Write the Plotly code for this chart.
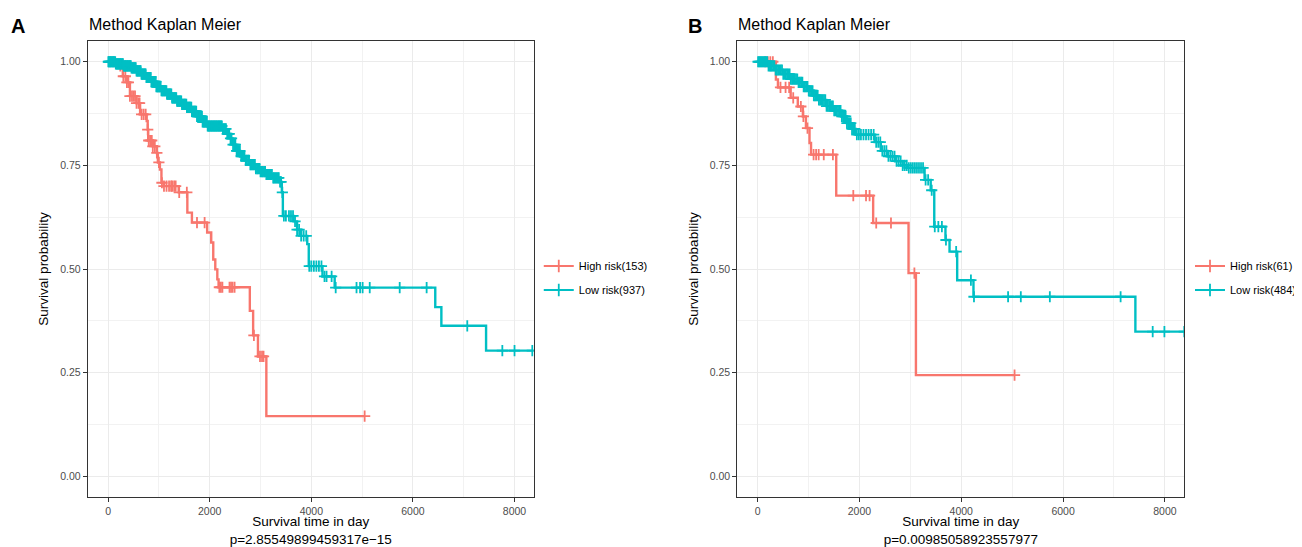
import numpy as np
import plotly.graph_objects as go

# ---------------- data ----------------
# Panel A
a_high_t = [0, 220, 290, 370, 430, 560, 630, 760, 780, 790, 880, 960, 980, 1020, 1050, 1100,
            1390, 1560, 1650, 1950, 2030, 2070, 2110, 2150, 2175, 2790, 2855, 2950, 3115, 5050]
a_high_s = [1.0, 0.99, 0.965, 0.95, 0.917, 0.90, 0.873, 0.857, 0.836, 0.81, 0.796, 0.78, 0.757, 0.74,
            0.708, 0.70, 0.685, 0.636, 0.612, 0.588, 0.564, 0.523, 0.499, 0.475, 0.456, 0.399, 0.34,
            0.289, 0.145, 0.145]
a_high_cens = [240, 300, 340, 370, 400, 430, 470, 500, 530, 560, 600, 620, 660, 700, 740, 780, 800,
               830, 860, 880, 920, 960, 1000, 1060, 1100, 1150, 1200, 1240, 1260, 1300, 1330, 1400,
               1550, 1750, 1900, 2190, 2220, 2250, 2390, 2420, 2450, 2490, 2870, 2990, 3030, 3060, 5050]

a_low_t = [0, 150, 300, 450, 550, 650, 750, 850, 950, 1050, 1150, 1250, 1350, 1450, 1550, 1650,
           1750, 1850, 1950, 2250, 2330, 2400, 2450, 2520, 2600, 2700, 2800, 2900, 3000, 3100, 3250,
           3380, 3420, 3440, 3650, 3720, 3800, 3920, 3950, 4220, 4460, 6440, 6560, 7440, 8379]
a_low_s = [1.0, 0.995, 0.99, 0.985, 0.978, 0.97, 0.962, 0.952, 0.94, 0.93, 0.922, 0.913, 0.905,
           0.897, 0.89, 0.88, 0.868, 0.855, 0.845, 0.838, 0.826, 0.815, 0.80, 0.785, 0.772, 0.762,
           0.752, 0.742, 0.735, 0.728, 0.72, 0.71, 0.685, 0.628, 0.615, 0.595, 0.58, 0.56, 0.507,
           0.482, 0.455, 0.408, 0.363, 0.303, 0.303]
a_low_cens = [5, 15, 30, 42, 55, 70, 85, 98, 110, 125, 140, 152, 168, 180, 195, 210, 222, 238, 250,
              265, 280, 292, 308, 320, 335, 350, 362, 378, 390, 405, 420, 432, 448, 460, 475, 490,
              502, 518, 530, 545, 560, 572, 588, 600, 615, 630, 642, 658, 670, 685, 700, 712, 728,
              740, 755, 770, 782, 798, 810, 825, 840, 852, 868, 880, 895, 910, 922, 938, 950, 965,
              980, 992, 1008, 1020, 1035, 1050, 1062, 1078, 1090, 1105, 1120, 1132, 1148, 1160,
              1175, 1190, 1202, 1218, 1230, 1245, 1260, 1272, 1288, 1300, 1315, 1330, 1342, 1358,
              1370, 1385, 1400, 1412, 1428, 1440, 1455, 1470, 1482, 1498, 1510, 1525, 1540, 1552,
              1568, 1580, 1595, 1610, 1622, 1638, 1650, 1665, 1680, 1692, 1708, 1720, 1735, 1750,
              1762, 1778, 1790, 1805, 1820, 1832, 1848, 1860, 1875, 1890, 1902, 1918, 1930, 1945,
              1960, 1972, 1988, 2000, 2015, 2030, 2042, 2058, 2070, 2085, 2100, 2112, 2128, 2140,
              2155, 2170, 2182, 2198, 2210, 2225, 2240, 2260, 2280, 2300, 2320, 2345, 2365, 2385,
              2410, 2430, 2460, 2485, 2505, 2530, 2550, 2575, 2595, 2620, 2640, 2665, 2685, 2710,
              2730, 2755, 2775, 2800, 2820, 2845, 2865, 2890, 2910, 2935, 2955, 2980, 3000, 3025,
              3045, 3070, 3090, 3115, 3135, 3160, 3180, 3205, 3225, 3250, 3270, 3295, 3315, 3340,
              3360, 3385, 3405, 3430, 3460, 3500, 3560, 3600, 3640, 3680, 3720, 3760, 3800, 3850,
              3900, 3960, 4000, 4050, 4100, 4150, 4200, 4260, 4300, 4400, 4480, 4890, 4960, 5010,
              5150, 5740, 6270, 7070, 7760, 8000, 8350]

# Panel B
b_high_t = [0, 360, 400, 650, 790, 890, 950, 1020, 1050, 1545, 2270, 2965, 3110, 5047]
b_high_s = [1.0, 0.957, 0.938, 0.913, 0.892, 0.868, 0.84, 0.804, 0.776, 0.677, 0.611, 0.49, 0.244, 0.244]
b_high_cens = [150, 200, 250, 300, 450, 550, 620, 700, 850, 900, 980, 1100, 1150, 1200, 1300, 1480,
               1880, 2130, 2200, 2330, 2620, 3080, 5047]

b_low_t = [0, 200, 350, 500, 650, 800, 900, 1000, 1100, 1200, 1350, 1500, 1650, 1750, 1850, 1930,
           2300, 2420, 2550, 2700, 2850, 2950, 3280, 3400, 3470, 3690, 3770, 3920, 4240, 7420, 8380]
b_low_s = [1.0, 0.99, 0.98, 0.97, 0.958, 0.95, 0.94, 0.93, 0.918, 0.908, 0.893, 0.882, 0.868, 0.852,
           0.838, 0.824, 0.806, 0.785, 0.772, 0.76, 0.75, 0.744, 0.715, 0.69, 0.602, 0.57, 0.542,
           0.473, 0.433, 0.349, 0.349]
b_low_cens = [10, 30, 50, 70, 90, 110, 130, 150, 170, 190, 215, 240, 260, 280, 305, 330, 355, 380,
              405, 430, 455, 480, 505, 530, 555, 580, 605, 630, 655, 680, 705, 730, 755, 780, 805,
              830, 855, 880, 905, 930, 955, 980, 1005, 1030, 1055, 1080, 1105, 1130, 1155, 1180,
              1205, 1230, 1255, 1280, 1305, 1330, 1355, 1380, 1405, 1430, 1455, 1480, 1505, 1530,
              1555, 1580, 1605, 1630, 1655, 1680, 1705, 1730, 1755, 1780, 1805, 1830, 1855, 1880,
              1910, 1950, 1990, 2030, 2080, 2130, 2180, 2230, 2280, 2330, 2370, 2410, 2450, 2490,
              2530, 2570, 2610, 2650, 2690, 2730, 2770, 2810, 2850, 2890, 2930, 2970, 3010, 3050,
              3090, 3130, 3170, 3210, 3250, 3300, 3350, 3420, 3480, 3550, 3620, 3700, 3900, 4190,
              4250, 4920, 5170, 5740, 7130, 7760, 7990, 8380]

x_ticks = [0, 2000, 4000, 6000, 8000]
y_ticks = [0.0, 0.25, 0.5, 0.75, 1.0]
labels_a = ["High risk(153)", "Low risk(937)"]
labels_b = ["High risk(61)", "Low risk(484)"]
pvals = ["p=2.85549899459317e\u221215", "p=0.00985058923557977"]

RED = "#F8766D"
TEAL = "#00BFC4"
FONT = "Liberation Sans, Arial, sans-serif"


def surv_at(times, surv, t):
    times = np.asarray(times)
    idx = np.searchsorted(times, t, side="right") - 1
    return [surv[i] for i in idx]


fig = go.Figure()

panels = [
    ("x", "y", "legend", a_high_t, a_high_s, a_high_cens, a_low_t, a_low_s, a_low_cens, labels_a),
    ("x2", "y2", "legend2", b_high_t, b_high_s, b_high_cens, b_low_t, b_low_s, b_low_cens, labels_b),
]
for xa, ya, lg, ht, hs, hc, lt, ls, lc, labs in panels:
    for t, s, c, col, name in [(ht, hs, hc, RED, labs[0]), (lt, ls, lc, TEAL, labs[1])]:
        # KM step curve
        fig.add_trace(go.Scatter(
            x=t, y=s, mode="lines", line=dict(color=col, width=2.4, shape="hv"),
            xaxis=xa, yaxis=ya, showlegend=False, legendgroup=name, hoverinfo="skip"))
        # censor marks
        fig.add_trace(go.Scatter(
            x=c, y=surv_at(t, s, c), mode="markers", legendgroup=name, showlegend=False,
            xaxis=xa, yaxis=ya,
            marker=dict(symbol="cross-thin", size=8, color=col, line=dict(color=col, width=1.8))))
        # legend entry
        fig.add_trace(go.Scatter(
            x=[None], y=[None], mode="lines+markers", name=name, legend=lg, legendgroup=name,
            xaxis=xa, yaxis=ya, line=dict(color=col, width=2.2),
            marker=dict(symbol="cross-thin", size=9, color=col, line=dict(color=col, width=1.8))))

# the page shows the figure with an 8px body margin; lay out in window pixels
OFF = 8
W, H = 1302 - OFF, 547 - OFF


def px_x(p):
    return (p - OFF) / W


def px_y(p):
    return 1 - (p - OFF) / H


axis_common = dict(
    showline=True, mirror=True, linecolor="#333333", linewidth=1,
    ticks="outside", ticklen=4, tickcolor="#333333", tickwidth=1,
    showgrid=True, gridcolor="#EBEBEB", gridwidth=1, zeroline=False,
    tickfont=dict(family=FONT, size=10.5, color="#4D4D4D"),
)
xcommon = dict(axis_common, tickvals=x_ticks, ticktext=[str(v) for v in x_ticks],
               minor=dict(showgrid=True, gridcolor="#F2F2F2", gridwidth=1, dtick=1000, tick0=0, ticks=""))
ycommon = dict(axis_common, tickvals=y_ticks, tickformat=".2f",
               minor=dict(showgrid=True, gridcolor="#F2F2F2", gridwidth=1, dtick=0.125, tick0=0, ticks=""))

title_font = dict(family=FONT, size=13.5, color="black")
fig.update_layout(
    width=W, height=H, margin=dict(l=0, r=0, t=0, b=0),
    plot_bgcolor="white", paper_bgcolor="white",
    font=dict(family=FONT, color="black"),
    xaxis=dict(xcommon, domain=[px_x(88), px_x(535)], range=[-399, 8379], anchor="y",
               title=dict(text="Survival time in day<br>" + pvals[0], standoff=1, font=title_font)),
    yaxis=dict(ycommon, domain=[px_y(497), px_y(41)], range=[-0.05, 1.05], anchor="x",
               title=dict(text="Survival probability", standoff=8, font=title_font)),
    xaxis2=dict(xcommon, domain=[px_x(739), px_x(1187)], range=[-398, 8380], anchor="y2",
                title=dict(text="Survival time in day<br>" + pvals[1], standoff=1, font=title_font)),
    yaxis2=dict(ycommon, domain=[px_y(497), px_y(41)], range=[-0.05, 1.05], anchor="x2",
                title=dict(text="Survival probability", standoff=8, font=title_font)),
    legend=dict(x=px_x(540), y=px_y(278), xanchor="left", yanchor="middle",
                font=dict(family=FONT, size=11, color="black"), bgcolor="rgba(0,0,0,0)",
                tracegroupgap=5, itemwidth=30),
    legend2=dict(x=px_x(1193), y=px_y(278), xanchor="left", yanchor="middle",
                 font=dict(family=FONT, size=11, color="black"), bgcolor="rgba(0,0,0,0)",
                 tracegroupgap=5, itemwidth=30),
    showlegend=True,
)

annots = [
    dict(text="<b>A</b>", x=px_x(9), y=px_y(26), size=20),
    dict(text="Method Kaplan Meier", x=px_x(87), y=px_y(25), size=16),
    dict(text="<b>B</b>", x=px_x(688), y=px_y(26), size=20),
    dict(text="Method Kaplan Meier", x=px_x(738), y=px_y(25), size=16),
]
for a in annots:
    fig.add_annotation(text=a["text"], x=a["x"], y=a["y"], xref="paper", yref="paper",
                       xanchor="left", yanchor="middle", showarrow=False,
                       font=dict(family=FONT, size=a["size"], color="black"))

fig.write_html("out.html")
